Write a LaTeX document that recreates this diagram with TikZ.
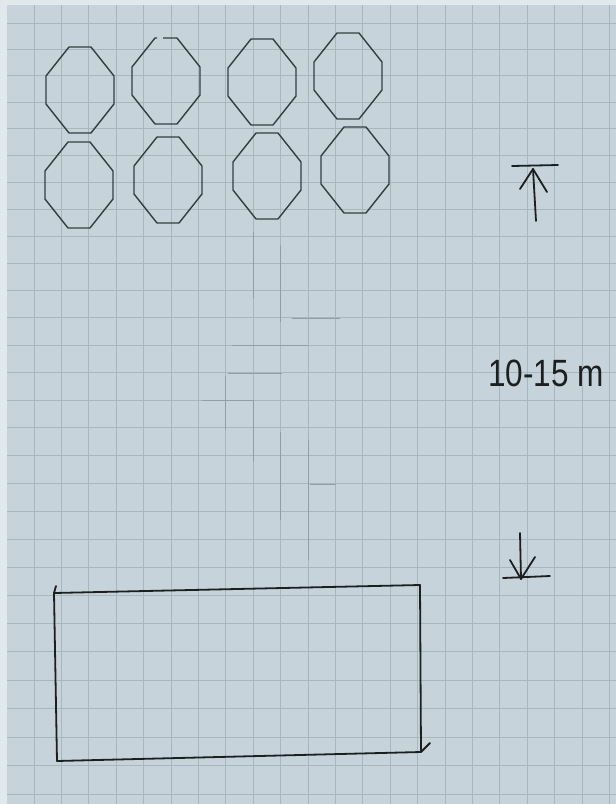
\documentclass[tikz,border=0pt]{standalone}
\usepackage{fontspec}
\newfontfamily\handfont{Liberation Sans}
\definecolor{paper}{RGB}{198,211,218}
\definecolor{paperedge}{RGB}{226,233,236}
\definecolor{gridc}{RGB}{168,182,190}
\definecolor{tracec}{RGB}{145,158,166}
\definecolor{inkoct}{RGB}{52,62,64}
\definecolor{ink}{RGB}{28,31,32}
\tikzset{
  gridline/.style={draw=gridc, line width=0.9pt},
  traceline/.style={draw=tracec, line width=1pt},
  octline/.style={draw=inkoct, line width=1.4pt, line join=round},
  penline/.style={draw=ink, line width=1.8pt, line cap=round, line join=round},
  labeltext/.style={font=\handfont\fontsize{38}{38}\selectfont, text=ink, inner sep=0pt, xscale=0.83}
}
\newcommand\octo[2]{%
  \draw[octline] (#1-11,#2-43) -- (#1+11,#2-43) -- (#1+34,#2-14) -- (#1+34,#2+14)
    -- (#1+11,#2+43) -- (#1-11,#2+43) -- (#1-34,#2+14) -- (#1-34,#2-14) -- cycle;}
\begin{document}
\begin{tikzpicture}[x=1pt,y=-1pt]
\useasboundingbox (0,0) rectangle (616,804);
% paper
\fill[paperedge] (0,0) rectangle (616,804);
\fill[paper] (7,5) rectangle (616,804);
% grid
\foreach \k in {0,...,28}{
  \pgfmathsetmacro\yy{23+26.3*\k+0.045*\k*\k}
  \draw[gridline] (7,\yy) -- (616,\yy);
}
\foreach \k in {0,...,21}{
  \pgfmathsetmacro\xx{34+27.4*\k}
  \draw[gridline] (\xx,5) -- (\xx,804);
}
% faint pencil traces
\draw[traceline] (253,232) -- (253,298);
\draw[traceline] (280.6,245) -- (280.6,322);
\draw[traceline] (292,318) -- (340,318);
\draw[traceline] (232,345) -- (308,345);
\draw[traceline] (228,373) -- (282,373);
\draw[traceline] (225.8,376) -- (225.8,430);
\draw[traceline] (202,400) -- (253,400);
\draw[traceline] (253,400) -- (253,462);
\draw[traceline] (280.6,432) -- (280.6,520);
\draw[traceline] (308,440) -- (308,560);
\draw[traceline] (310,484) -- (336,484);
% octagons, top row
\octo{80}{90}
\draw[octline] (163,38) -- (177,38) -- (200,67) -- (200,95) -- (177,124) -- (155,124)
  -- (132,95) -- (132,67) -- (155,38) -- (157,38);
\octo{262}{82}
\octo{348}{76}
% octagons, bottom row
\octo{79}{185}
\octo{168}{180}
\octo{267}{176}
\octo{355}{170}
% up arrow
\coordinate (upTip) at (533,169);
\draw[penline] (512,166) -- (558,165);
\draw[penline] (upTip) -- (536,221);
\draw[penline] (520,189) -- (upTip) -- (547,192);
% label
\node[labeltext] (lbl) at (546,373) {10-15 m};
% down arrow
\coordinate (dnTip) at (521,579);
\draw[penline] (520,533) -- (dnTip);
\draw[penline] (503,578) -- (550,576);
\draw[penline] (510,560) -- (dnTip) -- (535,557);
% rectangle
\draw[penline] (54,593) -- (420,585) -- (421,752) -- (57,761) -- cycle;
\draw[penline] (54,593) -- (56,586);
\draw[penline] (421,752) -- (430,743);
\end{tikzpicture}
\end{document}
